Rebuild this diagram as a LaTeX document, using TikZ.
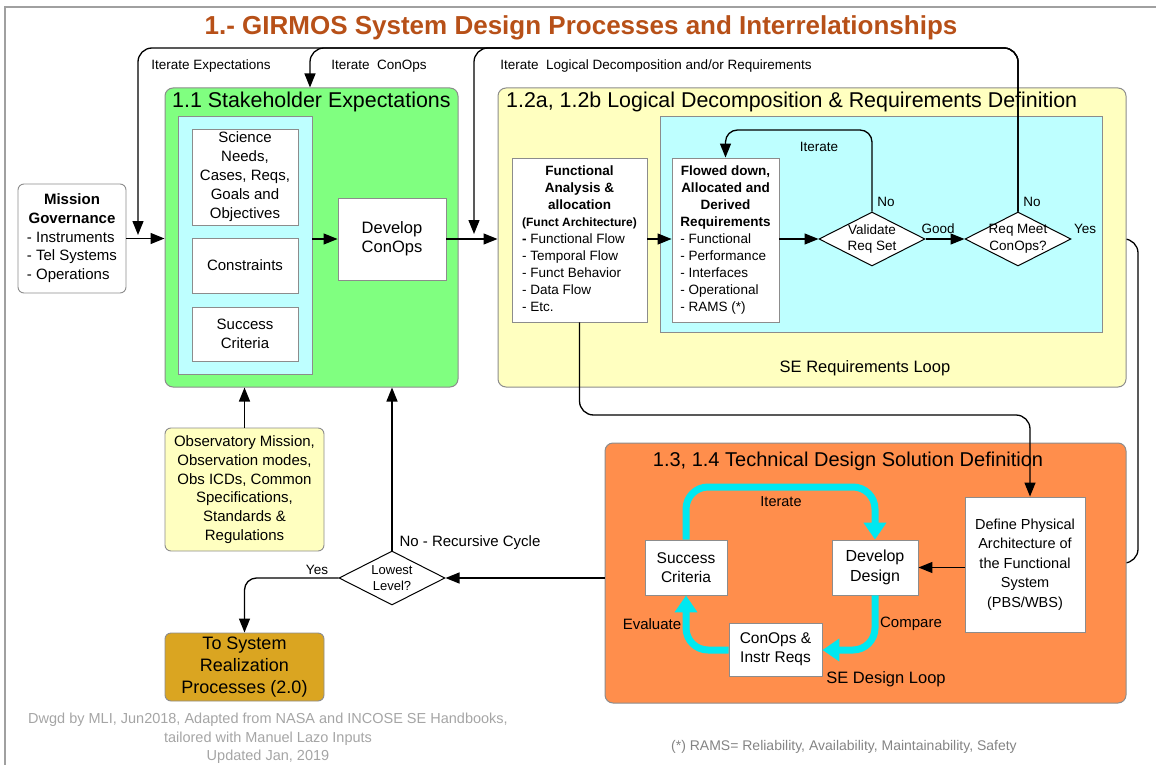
\documentclass[tikz,border=0pt]{standalone}
\usepackage{fontspec}
\setmainfont{Liberation Sans}
\usetikzlibrary{arrows.meta,shapes.geometric,calc}
\pgfdeclarelayer{back}
\pgfsetlayers{back,main}

\definecolor{titlec}{RGB}{183,80,24}
\definecolor{stakeg}{RGB}{128,255,128}
\definecolor{panelc}{RGB}{190,255,255}
\definecolor{reqy}{RGB}{255,255,192}
\definecolor{designo}{RGB}{255,142,76}
\definecolor{goldb}{RGB}{218,165,33}
\definecolor{loopc}{RGB}{0,232,240}
\definecolor{edgec}{RGB}{140,140,140}
\definecolor{notec}{RGB}{165,165,165}
\definecolor{framec}{RGB}{160,160,160}

\newcommand\setfs[2]{\fontsize{#1}{#2}\selectfont}
\newcommand\centrow[1]{\multicolumn{1}{@{}c@{}}{#1}}

\begin{document}
\begin{tikzpicture}[x=1pt,y=-1pt,
  box/.style={draw=edgec, line width=0.9pt, fill=white, inner sep=0pt, align=center},
  bigbox/.style={draw=edgec, line width=1pt, rounded corners=8pt, inner sep=0pt},
  dec/.style={draw=black, line width=1pt, fill=white, shape=diamond, aspect=2,
              inner sep=0pt, minimum width=106pt, minimum height=54pt},
  dectext/.style={inner sep=0pt, align=center, font=\setfs{13.5}{16.5}},
  arr/.style={line width=1.3pt, -{Triangle[length=14pt,width=11pt]}},
  plain/.style={line width=1.3pt},
  loop/.style={line width=7pt, draw=loopc, rounded corners=22pt,
               -{Triangle[length=17pt,width=22pt]}},
  lbl/.style={inner sep=0pt, align=center}]

\useasboundingbox (0,0) rectangle (1156,765);

% page frame
\draw[framec, line width=1.2pt] (1156,7) -- (5,7) -- (5,765);

% title
\node[lbl, text=titlec, font=\setfs{26}{30}\bfseries] (title) at (581,28)
  {1.- GIRMOS System Design Processes and Interrelationships};

% ---------- stakeholder expectations ----------
\node[bigbox, fill=stakeg, minimum width=293pt, minimum height=299pt] (stake) at (311.5,237.5) {};
\node[lbl, anchor=west, font=\setfs{21.4}{24}] (staketitle) at (172,102) {1.1 Stakeholder Expectations};
\node[box, fill=panelc, minimum width=134pt, minimum height=258pt] (spanel) at (245,245) {};
\node[box, font=\setfs{15}{19}, minimum width=106pt, minimum height=96pt] (sci) at (245,177)
  {Science\\Needs,\\Cases, Reqs,\\Goals and\\Objectives};
\node[box, font=\setfs{15}{19}, minimum width=106pt, minimum height=55pt] (cons) at (245,265.5) {Constraints};
\node[box, font=\setfs{15}{19}, minimum width=106pt, minimum height=54pt] (succ) at (245,334) {Success\\Criteria};
\node[box, font=\setfs{16.5}{19}, minimum width=108pt, minimum height=82pt] (dco) at (392,239) {Develop\\ConOps};

% ---------- logical decomposition & requirements ----------
\node[bigbox, fill=reqy, minimum width=628pt, minimum height=299pt] (ldbox) at (812,237.5) {};
\node[lbl, anchor=west, font=\setfs{21.4}{24}] (ldtitle) at (506,102)
  {1.2a, 1.2b Logical Decomposition \& Requirements Definition};
\node[box, fill=panelc, minimum width=442pt, minimum height=216pt] (rpanel) at (881,224) {};
\node[box, font=\setfs{13.5}{17}, minimum width=135pt, minimum height=164pt] (fa) at (579.5,240)
  {\begin{tabular}{@{}l@{}}
   \centrow{\bfseries Functional}\\
   \centrow{\bfseries Analysis \&}\\
   \centrow{\bfseries allocation}\\
   \centrow{\bfseries\setfs{12}{17}(Funct Architecture)}\\
   {\bfseries -} Functional Flow\\
   - Temporal Flow\\
   - Funct Behavior\\
   - Data Flow\\
   - Etc.
   \end{tabular}};
\node[box, font=\setfs{13.5}{17}, minimum width=107pt, minimum height=164pt] (flow) at (725.5,240)
  {\begin{tabular}{@{}l@{}}
   \centrow{\bfseries Flowed down,}\\
   \centrow{\bfseries Allocated and}\\
   \centrow{\bfseries Derived}\\
   \centrow{\bfseries Requirements}\\
   - Functional\\
   - Performance\\
   - Interfaces\\
   - Operational\\
   - RAMS (*)
   \end{tabular}};
\node[dec] (val) at (872,239) {};
\node[dectext] (valtxt) at (val.center) {Validate\\Req Set};
\node[dec] (meet) at (1018,239) {};
\node[dectext] (meettxt) at (meet.center) {Req Meet\\ConOps?};
\node[lbl, font=\setfs{16.5}{20}] (reqloop) at (865,368) {SE Requirements Loop};

% ---------- mission governance and inputs ----------
\node[box, rounded corners=6pt, font=\setfs{15}{18.7}, minimum width=108pt, minimum height=109pt] (mg) at (72,238.5)
  {\begin{tabular}{@{}l@{}}
   \centrow{\bfseries Mission}\\
   \centrow{\bfseries Governance}\\
   - Instruments\\
   - Tel Systems\\
   - Operations
   \end{tabular}};

\node[box, fill=reqy, rounded corners=6pt, font=\setfs{15}{18.7}, minimum width=159pt, minimum height=123pt] (obs) at (244.5,489.5)
  {Observatory Mission,\\Observation modes,\\Obs ICDs, Common\\Specifications,\\Standards \&\\Regulations};
\node[dec] (low) at (392,578) {};
\node[dectext, font=\setfs{13}{16}] (lowtxt) at (low.center) {Lowest\\Level?};
\node[box, fill=goldb, rounded corners=6pt, font=\setfs{18}{22}, minimum width=159pt, minimum height=68pt] (real) at (244.5,667)
  {To System\\Realization\\Processes (2.0)};

% ---------- technical design solution ----------
\node[bigbox, fill=designo, minimum width=521pt, minimum height=260pt] (tds) at (865.5,573) {};
\node[lbl, font=\setfs{20}{24}] (tdstitle) at (848,461) {1.3, 1.4 Technical Design Solution Definition};
\node[box, font=\setfs{15.5}{19.5}, minimum width=82pt, minimum height=55pt] (sc2) at (686,567.5) {Success\\Criteria};
\node[box, font=\setfs{16}{19.5}, minimum width=86pt, minimum height=55pt] (dd) at (875,567.5) {Develop\\Design};
\node[box, font=\setfs{15.5}{19}, minimum width=93pt, minimum height=53pt] (ci) at (775.5,649.5) {ConOps \&\\Instr Reqs};
\node[box, font=\setfs{14.5}{19.5}, minimum width=120pt, minimum height=135pt] (dp) at (1025,564.5)
  {Define Physical\\Architecture of\\the Functional\\System\\(PBS/WBS)};

% design loop
\draw[loop] (sc2.north) -- (686,487) -- (875,487) -- (dd.north);
\draw[loop] (dd.south) -- (875,650) -- (ci.east |- 0,650);
\draw[loop] (ci.west |- 0,650) -- (686,650) -- (sc2.south);
\node[lbl, font=\setfs{14.5}{17}] (lit) at (781,502) {Iterate};
\node[lbl, font=\setfs{15}{17}] (lev) at (652,624) {Evaluate};
\node[lbl, font=\setfs{15}{17}] (lcmp) at (911,624) {Compare};
\node[lbl, font=\setfs{16.5}{20}] (dloop) at (886,679) {SE Design Loop};

% ---------- connectors ----------
\coordinate (iexp) at (138,235);
\coordinate (ilog) at (474,234);
\draw[arr, rounded corners=14pt] (meet.north) -- (1018,48) -- (138,48) -- (iexp);
\draw[arr, rounded corners=14pt] (meet.north) -- (1018,48) -- (310,48) -- (310,0 |- stake.north);
\draw[arr, rounded corners=14pt] (meet.north) -- (1018,48) -- (474,48) -- (ilog);
\node[lbl, font=\setfs{13.5}{16}] (lexp) at (211,66) {Iterate Expectations};
\node[lbl, font=\setfs{13.5}{16}] (lcon) at (379,66) {Iterate\ \ ConOps};
\node[lbl, font=\setfs{13.5}{16}] (llog) at (656,66) {Iterate\ \ Logical Decomposition and/or Requirements};

\draw[arr] (mg.east) -- (mg.east -| stake.west);
\draw[arr] (spanel.east |- dco.west) -- (dco.west);
\draw[arr] (dco.east) -- (dco.east -| ldbox.west);
\draw[arr] (fa.east |- 0,239) -- (flow.west |- 0,239);
\draw[arr] (flow.east |- val.west) -- (val.west);
\draw[arr] (val.east) -- (meet.west);
\draw[arr, rounded corners=12pt] (val.north) -- (val.north |- 0,130) -- (flow.north |- 0,130) -- (flow.north);
\node[lbl, font=\setfs{13.5}{16}] (lvit) at (819,147) {Iterate};
\node[lbl, font=\setfs{13.5}{16}] (lno1) at (886,202) {No};
\node[lbl, font=\setfs{13.5}{16}] (lno2) at (1032,202) {No};
\node[lbl, font=\setfs{13.5}{16}] (lgood) at (938,229) {Good};
\node[lbl, font=\setfs{13.5}{16}] (lyes1) at (1085,229) {Yes};

\draw[arr, rounded corners=14pt] (fa.south) -- (579.5,415) -- (1030,415) -- (1030,0 |- dp.north);
\begin{pgfonlayer}{back}
\draw[plain, rounded corners=14pt] (meet.east) -- (1138,239) -- (1138,563) -- (dp.east |- 0,563);
\end{pgfonlayer}
\draw[arr] (dp.west |- dd.east) -- (dd.east);

\draw[arr] (low -| tds.west) -- (low.east);
\draw[arr] (low.north) -- (low.north |- stake.south);
\draw[arr] (obs.north) -- (obs.north |- stake.south);
\draw[arr, rounded corners=12pt] (low.west) -| (real.north);
\node[lbl, font=\setfs{15}{17}] (lrec) at (470,543) {No - Recursive Cycle};
\node[lbl, font=\setfs{13.5}{16}] (lyes2) at (317,570) {Yes};

% ---------- notes ----------
\node[lbl, text=notec, font=\setfs{14.5}{18.5}] (credit) at (268,738.5)
  {Dwgd by MLI, Jun2018, Adapted from NASA and INCOSE SE Handbooks,\\tailored with Manuel Lazo Inputs\\Updated Jan, 2019};
\node[lbl, text=notec!80!black, font=\setfs{14}{17}] (rams) at (844,747)
  {(*) RAMS= Reliability, Availability, Maintainability, Safety};
\end{tikzpicture}
\end{document}
